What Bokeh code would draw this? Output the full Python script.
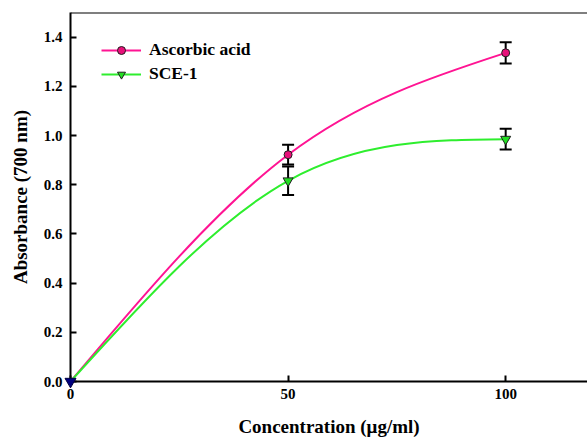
import numpy as np
from bokeh.plotting import figure
from bokeh.models import (Range1d, FixedTicker, NumeralTickFormatter, Legend, LegendItem,
                          ColumnDataSource, Whisker, TeeHead, Span)
from bokeh.embed import file_html
from bokeh.resources import INLINE

# ---- data ----
conc = [0, 50, 100]
ascorbic = [0.0, 0.922, 1.336]
ascorbic_err = [0.0, 0.040, 0.043]
sce1 = [0.0, 0.816, 0.985]
sce1_err = [0.0, 0.058, 0.042]
x_ticks = [0, 50, 100]
y_ticks = [0.0, 0.2, 0.4, 0.6, 0.8, 1.0, 1.2, 1.4]
series_names = ["Ascorbic acid", "SCE-1"]

FONT = "Liberation Serif"
PINK = "#FF1493"
PINK_MARK = "#E8107A"
GREEN = "#2EEE2E"
GREEN_MARK = "#22DD22"


def natural_spline_bezier(xs, ys):
    """Control points of the natural cubic spline through the points, as cubic Bezier segments."""
    xs = np.asarray(xs, float)
    ys = np.asarray(ys, float)
    n = len(xs)
    h = np.diff(xs)
    A = np.zeros((n, n))
    b = np.zeros(n)
    A[0, 0] = 1
    A[-1, -1] = 1
    for i in range(1, n - 1):
        A[i, i - 1] = h[i - 1]
        A[i, i] = 2 * (h[i - 1] + h[i])
        A[i, i + 1] = h[i]
        b[i] = 6 * ((ys[i + 1] - ys[i]) / h[i] - (ys[i] - ys[i - 1]) / h[i - 1])
    M = np.linalg.solve(A, b)
    seg = dict(x0=[], y0=[], x1=[], y1=[], cx0=[], cy0=[], cx1=[], cy1=[])
    for i in range(n - 1):
        d = (ys[i + 1] - ys[i]) / h[i]
        s0 = d - h[i] * (2 * M[i] + M[i + 1]) / 6
        s1 = d + h[i] * (M[i] + 2 * M[i + 1]) / 6
        seg["x0"].append(xs[i]); seg["y0"].append(ys[i])
        seg["x1"].append(xs[i + 1]); seg["y1"].append(ys[i + 1])
        seg["cx0"].append(xs[i] + h[i] / 3); seg["cy0"].append(ys[i] + s0 * h[i] / 3)
        seg["cx1"].append(xs[i + 1] - h[i] / 3); seg["cy1"].append(ys[i + 1] - s1 * h[i] / 3)
    return ColumnDataSource(seg)


p = figure(width=587, height=444, output_backend="svg", toolbar_location=None,
           x_range=Range1d(0, 118.8), y_range=Range1d(0, 1.5),
           min_border_left=70, min_border_right=0, min_border_top=12, min_border_bottom=63)
p.outline_line_color = None
p.xgrid.visible = False
p.ygrid.visible = False
p.background_fill_color = "white"
p.border_fill_color = "white"

# top frame line
p.add_layout(Span(location=p.y_range.end, dimension="width", line_color="black", line_width=2))

items = []
for name, ys, errs, lc, mc, marker, msize in [
    (series_names[0], ascorbic, ascorbic_err, PINK, PINK_MARK, "circle", 8),
    (series_names[1], sce1, sce1_err, GREEN, GREEN_MARK, "inverted_triangle", 10),
]:
    src = natural_spline_bezier(conc, ys)
    ln = p.bezier(x0="x0", y0="y0", x1="x1", y1="y1", cx0="cx0", cy0="cy0", cx1="cx1", cy1="cy1",
                  source=src, line_color=lc, line_width=2)
    # error bars (only where an error exists)
    ex = [x for x, e in zip(conc, errs) if e > 0]
    ey = [y for y, e in zip(ys, errs) if e > 0]
    ee = [e for e in errs if e > 0]
    esrc = ColumnDataSource(dict(x=ex, upper=[y + e for y, e in zip(ey, ee)],
                                 lower=[y - e for y, e in zip(ey, ee)]))
    w = Whisker(base="x", upper="upper", lower="lower", source=esrc, dimension="height",
                line_color="black", line_width=2, level="underlay",
                upper_head=TeeHead(size=12, line_width=2, line_color="black"),
                lower_head=TeeHead(size=12, line_width=2, line_color="black"))
    p.add_layout(w)
    sc = p.scatter(x=conc[1:], y=ys[1:], marker=marker, size=msize,
                   fill_color=mc, line_color="#202020", line_width=1)
    items.append(LegendItem(label=name, renderers=[ln, sc]))

# origin point, drawn dark blue as in the reference
p.scatter(x=conc[:1], y=sce1[:1], marker="inverted_triangle", size=11,
          fill_color="#000080", line_color="#000040", line_width=1, level="overlay")

legend = Legend(items=items, location=(31, 297), border_line_color=None,
                background_fill_alpha=0, padding=0, margin=0, spacing=3,
                glyph_width=40, glyph_height=20, label_height=20, label_standoff=8,
                label_text_font=FONT, label_text_font_style="bold", label_text_font_size="17.5px",
                label_text_color="black")
p.add_layout(legend, "center")

for ax in (p.xaxis[0], p.yaxis[0]):
    ax.axis_line_width = 2
    ax.axis_line_color = "black"
    ax.major_tick_line_width = 2
    ax.major_tick_line_color = "black"
    ax.major_tick_in = 6
    ax.major_tick_out = 0
    ax.minor_tick_line_color = None
    ax.major_label_text_font = FONT
    ax.major_label_text_font_style = "bold"
    ax.major_label_text_font_size = "15px"
    ax.major_label_text_color = "black"
    ax.axis_label_text_font = FONT
    ax.axis_label_text_font_style = "bold"
    ax.axis_label_text_font_size = "19px"
    ax.axis_label_text_color = "black"

p.xaxis.ticker = FixedTicker(ticks=x_ticks)
p.yaxis.ticker = FixedTicker(ticks=y_ticks)
p.yaxis.formatter = NumeralTickFormatter(format="0.0")
p.xaxis.axis_label = "Concentration (\u03bcg/ml)"
p.yaxis.axis_label = "Absorbance (700 nm)"
p.xaxis.major_label_standoff = 7
p.yaxis.major_label_standoff = 8
p.xaxis.axis_label_standoff = 14
p.yaxis.axis_label_standoff = 10

open("out.html", "w").write(file_html(p, INLINE))
